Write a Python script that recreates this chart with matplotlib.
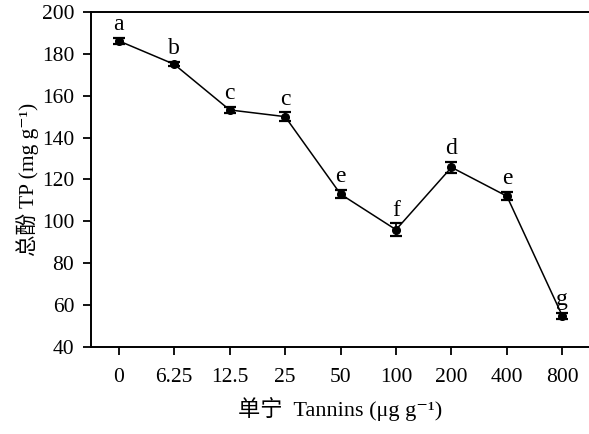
import matplotlib
matplotlib.use("Agg")
import matplotlib.pyplot as plt

plt.rcParams['font.family'] = ['Liberation Serif', 'Noto Sans CJK SC', 'DejaVu Serif']

# 数据
doses = ["0", "6.25", "12.5", "25", "50", "100", "200", "400", "800"]
tp = [186.2, 175.0, 153.2, 150.0, 113.0, 96.0, 125.8, 112.0, 54.8]
err = [1.5, 1.0, 1.5, 2.0, 2.0, 3.0, 2.5, 2.0, 1.5]
letters = ["a", "b", "c", "c", "e", "f", "d", "e", "g"]

fig = plt.figure(figsize=(5.89, 4.34), dpi=100)
ax = fig.add_axes([0.1545, 0.2005, 0.8455, 0.772])

x = list(range(len(doses)))
ax.errorbar(x, tp, yerr=err, fmt='o', color='black', ms=5.5, lw=1.1,
            ecolor='black', elinewidth=1.3, capsize=4, capthick=1.6, ls='-')

for i in x:
    ax.annotate(letters[i], (i, tp[i] + err[i]), xytext=(0, 2),
                textcoords='offset points', ha='center', va='bottom', fontsize=17)

ax.set_xlim(-0.5, 8.48)
ax.set_ylim(40, 200)
ax.set_yticks(range(40, 201, 20))
ax.set_xticks(x)
ax.set_xticklabels(doses)
ax.tick_params(direction='out', length=6, width=1.3, labelsize=15.5)
ax.tick_params(axis='y', pad=6)
ax.tick_params(axis='x', pad=9)
ax.spines['right'].set_visible(False)
for s in ax.spines.values():
    s.set_linewidth(1.4)

ax.set_xlabel("单宁  Tannins (μg g⁻¹)", fontsize=16, labelpad=7)
ax.set_ylabel("总酚 TP (mg g⁻¹)", fontsize=15.5, labelpad=2)

fig.savefig("out.png", dpi=100)
